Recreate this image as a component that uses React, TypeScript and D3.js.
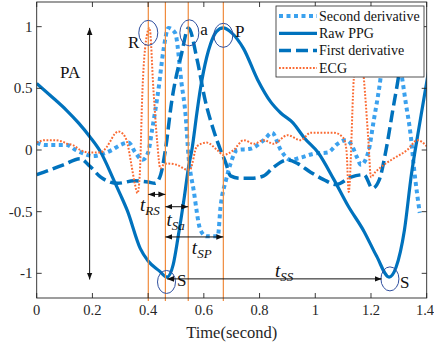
import React from "react";
import * as d3 from "d3";

// Raw PPG
const ppgT = [0, 0.05, 0.108, 0.15, 0.19, 0.228, 0.28, 0.3, 0.325, 0.372, 0.4, 0.44, 0.468, 0.49, 0.508, 0.53, 0.545, 0.557, 0.575, 0.588, 0.61, 0.624, 0.645, 0.669, 0.7, 0.743, 0.793, 0.84, 0.876, 0.92, 0.96, 1.01, 1.067, 1.117, 1.175, 1.22, 1.265, 1.29, 1.32, 1.345, 1.37, 1.385, 1.4, 1.41];
const ppgV = [0.54, 0.44, 0.32, 0.22, 0.11, -0.01, -0.26, -0.36, -0.49, -0.8, -0.9, -0.98, -1.03, -0.93, -0.7, -0.38, -0.14, 0.0, 0.3, 0.5, 0.75, 0.86, 0.96, 0.99, 0.95, 0.82, 0.57, 0.39, 0.3, 0.22, 0.1, -0.02, -0.24, -0.45, -0.66, -0.86, -1.03, -0.95, -0.65, -0.2, 0.15, 0.35, 0.55, 0.68];

// First derivative
const d1T = [0, 0.05, 0.096, 0.156, 0.19, 0.23, 0.29, 0.35, 0.4, 0.425, 0.445, 0.462, 0.485, 0.52, 0.545, 0.576, 0.605, 0.635, 0.66, 0.678, 0.696, 0.73, 0.77, 0.815, 0.85, 0.9, 0.937, 0.983, 1.03, 1.075, 1.128, 1.175, 1.205, 1.23, 1.254, 1.278, 1.295, 1.31, 1.33];
const d1V = [-0.2, -0.16, -0.12, -0.07, -0.13, -0.22, -0.27, -0.25, -0.26, -0.27, -0.2, 0.0, 0.4, 0.78, 0.99, 0.73, 0.4, 0.16, 0.0, -0.1, -0.21, -0.23, -0.23, -0.21, -0.14, -0.08, -0.11, -0.18, -0.24, -0.28, -0.22, -0.2, -0.31, -0.24, 0.0, 0.32, 0.54, 0.75, 0.95];

// Second derivative
const d2T = [0, 0.03, 0.06, 0.108, 0.14, 0.17, 0.2, 0.24, 0.27, 0.3, 0.33, 0.354, 0.38, 0.4, 0.414, 0.437, 0.455, 0.473, 0.497, 0.52, 0.535, 0.545, 0.563, 0.588, 0.61, 0.65, 0.66, 0.68, 0.696, 0.72, 0.767, 0.815, 0.845, 0.876, 0.91, 0.95, 0.995, 1.045, 1.08, 1.11, 1.128, 1.15, 1.164, 1.19, 1.21, 1.23, 1.25, 1.27, 1.29, 1.307, 1.325, 1.343, 1.355, 1.367, 1.375];
const d2V = [0.06, 0.04, 0.04, 0.04, 0.0, -0.03, -0.05, -0.03, 0.0, 0.04, 0.06, -0.02, -0.08, -0.02, 0.16, 0.49, 0.81, 0.99, 0.95, 0.54, 0.27, -0.05, -0.32, -0.65, -0.7, -0.7, -0.46, -0.24, -0.11, 0.0, 0.01, 0.08, 0.14, 0.0, -0.08, -0.06, -0.03, -0.02, 0.05, 0.08, 0.05, -0.06, -0.12, -0.02, 0.24, 0.51, 0.85, 0.98, 0.85, 0.65, 0.38, 0.11, -0.16, -0.38, -0.51];

// ECG
const ecgT = [0, 0.03, 0.06, 0.09, 0.11, 0.13, 0.156, 0.19, 0.228, 0.25, 0.264, 0.28, 0.293, 0.31, 0.325, 0.34, 0.352, 0.362, 0.37, 0.379, 0.392, 0.405, 0.419, 0.432, 0.444, 0.455, 0.47, 0.503, 0.54, 0.55, 0.575, 0.61, 0.648, 0.67, 0.707, 0.743, 0.78, 0.815, 0.85, 0.9, 0.948, 0.983, 1.03, 1.067, 1.1, 1.112, 1.12, 1.138, 1.153, 1.174, 1.19, 1.2, 1.215, 1.235, 1.28, 1.33, 1.367, 1.4];
const ecgV = [0.06, 0.08, 0.08, 0.07, 0.05, 0.04, 0.0, -0.02, -0.02, 0.02, 0.07, 0.13, 0.15, 0.13, 0.06, -0.12, -0.27, -0.35, -0.2, 0.45, 0.88, 0.99, 0.49, 0.08, -0.15, -0.12, -0.11, -0.12, -0.16, -0.16, 0.03, 0.06, 0.0, -0.04, 0.0, 0.08, 0.05, 0.08, 0.05, 0.12, 0.08, 0.14, 0.14, 0.14, 0.1, 0.0, -0.34, 0.57, 1.0, 0.59, 0.1, -0.22, -0.18, -0.14, -0.07, 0.0, 0.08, 0.03];

// event times: R, S, a, P
const markT = [0.4006, 0.462, 0.544, 0.67];

const xTicks = [0, 0.2, 0.4, 0.6, 0.8, 1, 1.2, 1.4];
const yTicks = [-1, -0.5, 0, 0.5, 1];

const legendNames = ["Second derivative", "Raw PPG", "First derivative", "ECG"];

const W = 434;
const H = 345;
const ml = 36.7, mr = 426.7, mt = 2, mb = 298;

const BLUE = "#0072BD";
const LBLUE = "#3BA1EE";
const ORANGE = "#FA6A32";
const VLINE = "#F08A3C";
const CIRC = "#2F4F9F";
const AX = "#262626";
const FONT = "'Liberation Serif', 'Times New Roman', serif";

export default function App() {
  const x = d3.scaleLinear().domain([0, 1.4]).range([ml, mr]);
  const y = d3.scaleLinear().domain([-1.2, 1.2]).range([mb, mt]);

  const mk = (ts: number[], vs: number[]) =>
    d3
      .line<number>()
      .x((_, i) => x(ts[i]))
      .y((v) => y(v))
      .curve(d3.curveMonotoneX)(vs) || "";

  const styles = [
    { d: mk(d2T, d2V), stroke: LBLUE, w: 4, dash: "4 3.5" },
    { d: mk(ppgT, ppgV), stroke: BLUE, w: 3.2, dash: undefined },
    { d: mk(d1T, d1V), stroke: BLUE, w: 3.5, dash: "12 5" },
    { d: mk(ecgT, ecgV), stroke: ORANGE, w: 2, dash: "1.8 1.6" },
  ];

  const arrows = [
    { x1: 0.19, y1: -1.05, x2: 0.19, y2: 0.99 },
    { x1: markT[0], y1: -0.36, x2: markT[1], y2: -0.36 },
    { x1: markT[1], y1: -0.46, x2: markT[2], y2: -0.46 },
    { x1: markT[1], y1: -0.705, x2: markT[3], y2: -0.705 },
    { x1: 0.468, y1: -1.045, x2: 1.238, y2: -1.045 },
  ];

  const circles = [
    { cx: markT[0], cy: 0.95, rx: 9.5, ry: 12.5 },
    { cx: 0.548, cy: 0.95, rx: 9.5, ry: 13 },
    { cx: 0.67, cy: 0.93, rx: 9.5, ry: 12 },
    { cx: 0.466, cy: -1.07, rx: 9, ry: 11.5 },
    { cx: 1.268, cy: -1.045, rx: 9, ry: 12 },
  ];

  const letters = [
    { t: "R", x: 0.328, y: 0.83 },
    { t: "a", x: 0.587, y: 0.93 },
    { t: "P", x: 0.712, y: 0.92 },
    { t: "S", x: 0.504, y: -1.105 },
    { t: "S", x: 1.304, y: -1.12 },
    { t: "PA", x: 0.084, y: 0.58 },
  ];

  const tLabels = [
    { sub: "RS", x: 0.371, y: -0.495 },
    { sub: "Sa", x: 0.466, y: -0.616 },
    { sub: "SP", x: 0.557, y: -0.843 },
    { sub: "SS", x: 0.855, y: -1.03 },
  ];

  const legendRows = [16, 33.3, 50.6, 68];

  return (
    <svg
      width={W}
      height={H}
      style={{ position: "absolute", left: 0, top: 0, background: "#fff" }}
      fontFamily={FONT}
    >
      <defs>
        <clipPath id="plot">
          <rect x={ml} y={mt} width={mr - ml} height={mb - mt} />
        </clipPath>
        <marker
          id="ah"
          viewBox="0 0 10 10"
          refX="10"
          refY="5"
          markerWidth="7"
          markerHeight="7"
          markerUnits="userSpaceOnUse"
          orient="auto-start-reverse"
        >
          <path d="M0,1 L10,5 L0,9 Z" fill="#111" />
        </marker>
      </defs>

      <rect x={0} y={0} width={W} height={H} fill="#fff" />

      {/* curves */}
      <g clipPath="url(#plot)" fill="none">
        {styles.map((s, i) => (
          <path
            key={i}
            d={s.d}
            stroke={s.stroke}
            strokeWidth={s.w}
            strokeDasharray={s.dash}
            strokeLinejoin="round"
          />
        ))}
      </g>

      {/* event lines */}
      {markT.map((t, i) => (
        <line key={i} x1={x(t)} x2={x(t)} y1={mt} y2={mb + 3} stroke={VLINE} strokeWidth={1.2} />
      ))}

      {/* circles */}
      {circles.map((c, i) => (
        <ellipse key={i} cx={x(c.cx)} cy={y(c.cy)} rx={c.rx} ry={c.ry} fill="none" stroke={CIRC} strokeWidth={1} />
      ))}

      {/* arrows */}
      {arrows.map((a, i) => (
        <line
          key={i}
          x1={x(a.x1)}
          y1={y(a.y1)}
          x2={x(a.x2)}
          y2={y(a.y2)}
          stroke="#111"
          strokeWidth={1}
          markerStart="url(#ah)"
          markerEnd="url(#ah)"
        />
      ))}

      {/* letters */}
      {letters.map((l, i) => (
        <text key={i} x={x(l.x)} y={y(l.y)} fontSize={17} fill="#111">
          {l.t}
        </text>
      ))}

      {tLabels.map((l, i) => (
        <text key={i} x={x(l.x)} y={y(l.y)} fontSize={19} fontStyle="italic" fill="#111">
          t
          <tspan fontSize={13} dy={4}>
            {l.sub}
          </tspan>
        </text>
      ))}

      {/* axes box */}
      <rect x={ml} y={mt} width={mr - ml} height={mb - mt} fill="none" stroke={AX} strokeWidth={0.9} />
      {xTicks.map((t) => (
        <g key={"x" + t}>
          <line x1={x(t)} x2={x(t)} y1={mb} y2={mb - 5} stroke={AX} strokeWidth={0.9} />
          <line x1={x(t)} x2={x(t)} y1={mt} y2={mt + 5} stroke={AX} strokeWidth={0.9} />
          <text x={Math.min(x(t), 425)} y={315} textAnchor="middle" fontSize={14.5} fill="#262626">
            {String(t)}
          </text>
        </g>
      ))}
      {yTicks.map((t) => (
        <g key={"y" + t}>
          <line x1={ml} x2={ml + 5} y1={y(t)} y2={y(t)} stroke={AX} strokeWidth={0.9} />
          <line x1={mr} x2={mr - 5} y1={y(t)} y2={y(t)} stroke={AX} strokeWidth={0.9} />
          <text x={32.5} y={y(t) + 5} textAnchor="end" fontSize={15} fill="#262626">
            {String(t)}
          </text>
        </g>
      ))}
      <text x={(ml + mr) / 2} y={338} textAnchor="middle" fontSize={16.5} fill="#262626">
        Time(second)
      </text>

      {/* legend */}
      <rect x={276} y={6} width={148} height={71} fill="#fff" stroke={AX} strokeWidth={0.8} />
      {legendNames.map((n, i) => (
        <g key={n}>
          <line
            x1={279}
            x2={317}
            y1={legendRows[i]}
            y2={legendRows[i]}
            stroke={styles[i].stroke}
            strokeWidth={styles[i].w}
            strokeDasharray={styles[i].dash}
          />
          <text x={319} y={legendRows[i] + 4.8} fontSize={14} fill="#111">
            {n}
          </text>
        </g>
      ))}
    </svg>
  );
}
